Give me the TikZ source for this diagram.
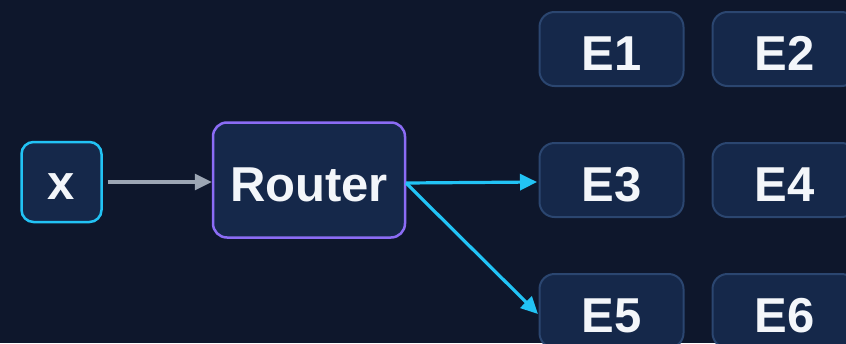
\documentclass[tikz,border=0pt]{standalone}
\usepackage{fontspec}
\setmainfont{Liberation Sans}
\usetikzlibrary{arrows.meta}
\definecolor{bg}{HTML}{0E172C}
\definecolor{boxfill}{HTML}{15284A}
\definecolor{expertline}{HTML}{2B4670}
\definecolor{cyanline}{HTML}{22C3F5}
\definecolor{violetline}{HTML}{8B6CF5}
\definecolor{grayline}{HTML}{9CA6B4}
\definecolor{labeltext}{HTML}{F3F6FA}
\tikzset{
  x=1pt, y=-1pt,
  box/.style={rectangle, fill=boxfill, text=labeltext,
    font=\fontsize{49}{56}\selectfont\bfseries, inner sep=0pt, anchor=center,
    text height=43pt, text depth=0pt},
  inputbox/.style={box, draw=cyanline, line width=2.5pt, rounded corners=12pt,
    minimum width=80pt, minimum height=80pt, text height=35pt, text depth=0pt},
  routerbox/.style={box, draw=violetline, line width=2.5pt, rounded corners=14pt,
    minimum width=192pt, minimum height=115pt},
  expertbox/.style={box, draw=expertline, line width=2pt, rounded corners=15pt,
    minimum width=144pt, minimum height=74pt},
  flow/.style={line width=3.2pt, -{Triangle[length=17pt,width=16pt]}},
}
\begin{document}
\begin{tikzpicture}
  \fill[bg] (0,0) rectangle (846,343);
  \useasboundingbox (0,0) rectangle (846,343);

  \node[inputbox] (x) at (61.5,182) {x};
  \node[routerbox] (router) at (309,180) {Router};

  \node[expertbox] (e1) at (611.5,49) {E1};
  \node[expertbox] (e2) at (784.5,49) {E2};
  \node[expertbox] (e3) at (611.5,180) {E3};
  \node[expertbox] (e4) at (784.5,180) {E4};
  \node[expertbox] (e5) at (611.5,311) {E5};
  \node[expertbox] (e6) at (784.5,311) {E6};

  \coordinate (rout) at (406,183);
  \coordinate (e3in) at (537,182);
  \coordinate (e5in) at (538,314);
  \draw[flow, grayline, shorten <=5pt] (x.east) -- (x.east -| router.west);
  \draw[flow, cyanline] (rout) -- (e3in);
  \draw[flow, cyanline] (rout) -- (e5in);
\end{tikzpicture}
\end{document}
